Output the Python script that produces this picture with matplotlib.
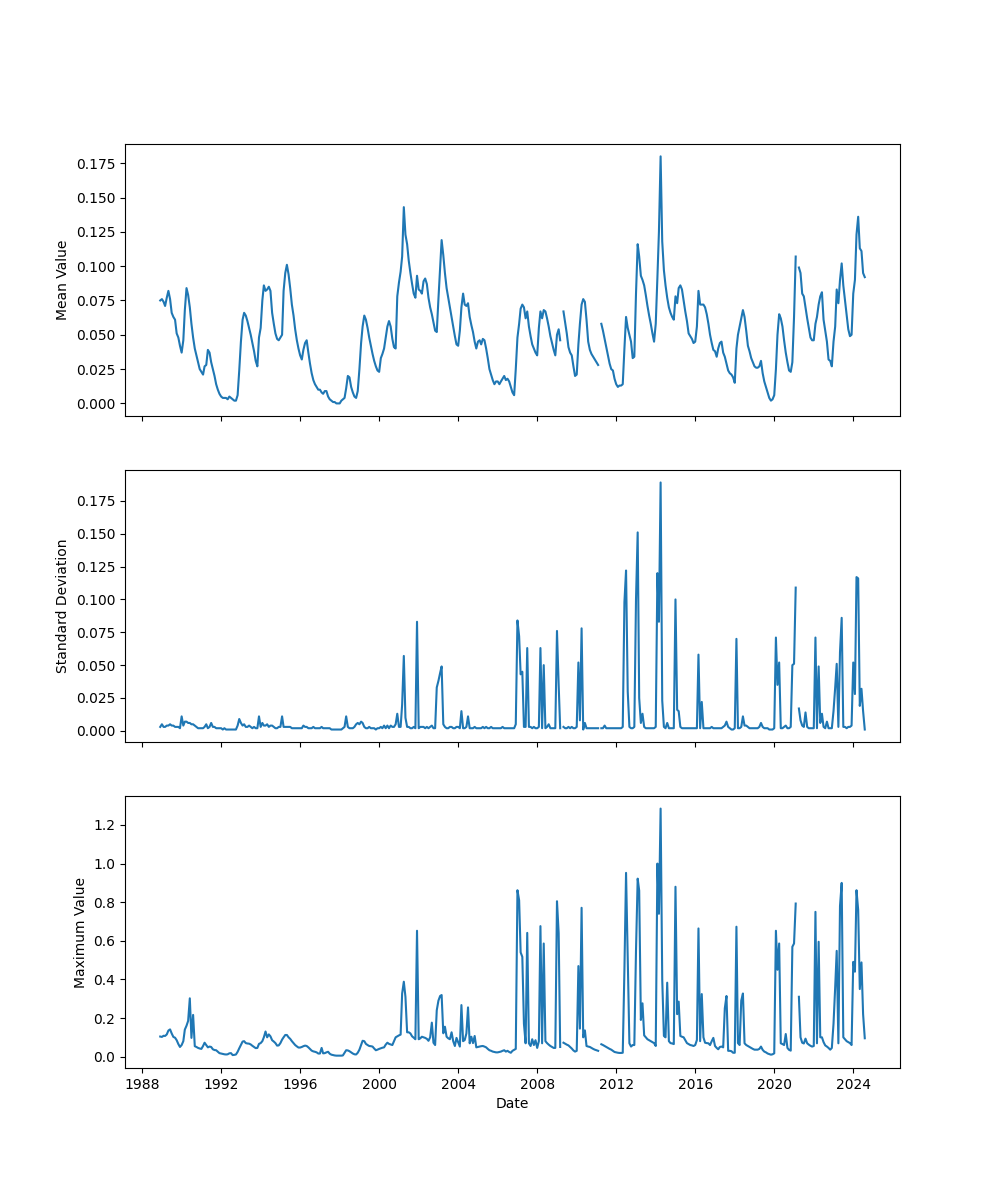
import numpy as np
import pandas as pd
import matplotlib
matplotlib.use("Agg")
import matplotlib.pyplot as plt
import matplotlib.dates as mdates

nan = np.nan

# monthly dates, Dec 1988 .. Aug 2024
dates = pd.date_range("1988-12-01", "2024-08-01", freq="MS")

# mean value, one row per year (first row is Dec 1988 only)
mean_value = [
    0.075,
    0.076, 0.074, 0.071, 0.077, 0.082, 0.076, 0.066, 0.063, 0.061, 0.051, 0.048, 0.042,  # 1989
    0.037, 0.046, 0.068, 0.084, 0.079, 0.070, 0.058, 0.048, 0.040, 0.035, 0.030, 0.025,  # 1990
    0.023, 0.021, 0.027, 0.028, 0.039, 0.037, 0.030, 0.025, 0.020, 0.014, 0.010, 0.007,  # 1991
    0.005, 0.004, 0.004, 0.004, 0.003, 0.005, 0.004, 0.003, 0.002, 0.002, 0.006, 0.024,  # 1992
    0.045, 0.061, 0.066, 0.064, 0.060, 0.055, 0.050, 0.044, 0.038, 0.031, 0.027, 0.048,  # 1993
    0.055, 0.075, 0.086, 0.082, 0.083, 0.085, 0.082, 0.066, 0.058, 0.051, 0.047, 0.046,  # 1994
    0.048, 0.050, 0.082, 0.095, 0.101, 0.094, 0.084, 0.072, 0.064, 0.054, 0.046, 0.040,  # 1995
    0.035, 0.032, 0.039, 0.044, 0.046, 0.037, 0.029, 0.022, 0.017, 0.014, 0.012, 0.010,  # 1996
    0.010, 0.008, 0.007, 0.009, 0.009, 0.005, 0.003, 0.002, 0.001, 0.001, 0.000, 0.000,  # 1997
    0.000, 0.002, 0.003, 0.004, 0.011, 0.020, 0.019, 0.012, 0.008, 0.005, 0.004, 0.009,  # 1998
    0.025, 0.044, 0.056, 0.064, 0.061, 0.055, 0.048, 0.042, 0.036, 0.031, 0.027, 0.024,  # 1999
    0.023, 0.033, 0.036, 0.040, 0.048, 0.056, 0.060, 0.056, 0.047, 0.041, 0.040, 0.078,  # 2000
    0.088, 0.096, 0.107, 0.143, 0.123, 0.116, 0.104, 0.095, 0.087, 0.080, 0.077, 0.093,  # 2001
    0.083, 0.082, 0.080, 0.089, 0.091, 0.087, 0.077, 0.070, 0.065, 0.059, 0.053, 0.052,  # 2002
    0.076, 0.098, 0.119, 0.108, 0.095, 0.084, 0.077, 0.070, 0.063, 0.056, 0.049, 0.043,  # 2003
    0.042, 0.053, 0.070, 0.080, 0.072, 0.071, 0.073, 0.063, 0.057, 0.052, 0.045, 0.040,  # 2004
    0.045, 0.046, 0.043, 0.047, 0.046, 0.040, 0.033, 0.025, 0.021, 0.017, 0.014, 0.016,  # 2005
    0.016, 0.014, 0.016, 0.018, 0.020, 0.017, 0.018, 0.016, 0.012, 0.008, 0.006, 0.025,  # 2006
    0.048, 0.058, 0.069, 0.072, 0.070, 0.062, 0.067, 0.056, 0.049, 0.043, 0.040, 0.037,  # 2007
    0.035, 0.055, 0.067, 0.062, 0.068, 0.067, 0.062, 0.056, 0.049, 0.044, 0.039, 0.035,  # 2008
    0.050, 0.054, 0.046, nan, 0.067, 0.059, 0.051, 0.041, 0.037, 0.035, 0.027, 0.020,    # 2009
    0.021, 0.043, 0.058, 0.072, 0.076, 0.074, 0.061, 0.045, 0.039, 0.036, 0.034, 0.032,  # 2010
    0.030, 0.028, nan, 0.058, 0.053, 0.047, 0.041, 0.035, 0.029, 0.025, 0.024, 0.018,    # 2011
    0.014, 0.012, 0.013, 0.013, 0.014, 0.040, 0.063, 0.055, 0.050, 0.045, 0.033, 0.034,  # 2012
    0.080, 0.116, 0.107, 0.093, 0.090, 0.086, 0.079, 0.071, 0.064, 0.058, 0.051, 0.045,  # 2013
    0.058, 0.092, 0.125, 0.180, 0.118, 0.097, 0.086, 0.077, 0.070, 0.066, 0.063, 0.061,  # 2014
    0.078, 0.073, 0.084, 0.086, 0.083, 0.075, 0.067, 0.060, 0.051, 0.049, 0.047, 0.044,  # 2015
    0.045, 0.056, 0.082, 0.072, 0.072, 0.072, 0.070, 0.065, 0.058, 0.050, 0.044, 0.039,  # 2016
    0.038, 0.034, 0.040, 0.044, 0.045, 0.037, 0.034, 0.029, 0.024, 0.022, 0.021, 0.019,  # 2017
    0.015, 0.040, 0.050, 0.056, 0.062, 0.068, 0.063, 0.053, 0.042, 0.038, 0.033, 0.030,  # 2018
    0.027, 0.026, 0.026, 0.027, 0.031, 0.022, 0.016, 0.012, 0.008, 0.004, 0.002, 0.003,  # 2019
    0.006, 0.025, 0.050, 0.065, 0.062, 0.056, 0.046, 0.037, 0.030, 0.024, 0.023, 0.030,  # 2020
    0.063, 0.107, nan, 0.099, 0.095, 0.080, 0.078, 0.070, 0.062, 0.055, 0.048, 0.046,    # 2021
    0.046, 0.058, 0.063, 0.072, 0.078, 0.081, 0.061, 0.053, 0.045, 0.032, 0.031, 0.027,  # 2022
    0.045, 0.056, 0.083, 0.073, 0.090, 0.102, 0.086, 0.075, 0.064, 0.054, 0.049, 0.050,  # 2023
    0.080, 0.090, 0.123, 0.136, 0.113, 0.111, 0.095, 0.092,                              # 2024
]

# standard deviation
std_value = [
    0.003,
    0.005, 0.003, 0.003, 0.004, 0.004, 0.005, 0.004, 0.004, 0.003, 0.003, 0.003, 0.002,  # 1989
    0.011, 0.004, 0.007, 0.007, 0.006, 0.006, 0.005, 0.005, 0.004, 0.003, 0.002, 0.002,  # 1990
    0.002, 0.002, 0.003, 0.005, 0.002, 0.003, 0.006, 0.003, 0.003, 0.002, 0.002, 0.002,  # 1991
    0.002, 0.001, 0.002, 0.001, 0.001, 0.001, 0.001, 0.001, 0.001, 0.001, 0.004, 0.009,  # 1992
    0.006, 0.004, 0.005, 0.003, 0.003, 0.004, 0.003, 0.002, 0.003, 0.002, 0.002, 0.011,  # 1993
    0.003, 0.006, 0.004, 0.004, 0.005, 0.003, 0.004, 0.004, 0.003, 0.002, 0.002, 0.003,  # 1994
    0.003, 0.011, 0.003, 0.003, 0.003, 0.003, 0.003, 0.002, 0.002, 0.002, 0.002, 0.002,  # 1995
    0.002, 0.002, 0.004, 0.003, 0.003, 0.002, 0.002, 0.002, 0.003, 0.002, 0.002, 0.002,  # 1996
    0.002, 0.003, 0.002, 0.002, 0.002, 0.002, 0.002, 0.001, 0.001, 0.001, 0.001, 0.001,  # 1997
    0.001, 0.001, 0.002, 0.003, 0.011, 0.003, 0.002, 0.002, 0.002, 0.003, 0.005, 0.006,  # 1998
    0.005, 0.007, 0.006, 0.003, 0.002, 0.002, 0.003, 0.002, 0.002, 0.002, 0.001, 0.002,  # 1999
    0.002, 0.003, 0.002, 0.004, 0.002, 0.004, 0.002, 0.004, 0.003, 0.003, 0.005, 0.013,  # 2000
    0.003, 0.003, 0.020, 0.057, 0.010, 0.003, 0.003, 0.002, 0.002, 0.003, 0.002, 0.083,  # 2001
    0.002, 0.003, 0.003, 0.003, 0.002, 0.003, 0.002, 0.003, 0.004, 0.002, 0.002, 0.033,  # 2002
    0.038, 0.044, 0.049, 0.005, 0.003, 0.002, 0.002, 0.003, 0.003, 0.002, 0.002, 0.003,  # 2003
    0.003, 0.002, 0.015, 0.002, 0.002, 0.003, 0.011, 0.002, 0.002, 0.002, 0.003, 0.002,  # 2004
    0.002, 0.002, 0.002, 0.003, 0.002, 0.003, 0.002, 0.002, 0.003, 0.002, 0.002, 0.002,  # 2005
    0.002, 0.002, 0.002, 0.003, 0.002, 0.002, 0.002, 0.002, 0.002, 0.002, 0.002, 0.005,  # 2006
    0.084, 0.072, 0.043, 0.045, 0.003, 0.003, 0.063, 0.003, 0.003, 0.002, 0.003, 0.002,  # 2007
    0.002, 0.003, 0.063, 0.002, 0.050, 0.002, 0.003, 0.005, 0.002, 0.002, 0.002, 0.002,  # 2008
    0.076, 0.035, 0.002, nan, 0.003, 0.002, 0.002, 0.003, 0.002, 0.003, 0.002, 0.002,    # 2009
    0.003, 0.052, 0.008, 0.078, 0.001, 0.006, 0.002, 0.002, 0.002, 0.002, 0.002, 0.002,  # 2010
    0.002, 0.002, nan, 0.002, 0.002, 0.004, 0.002, 0.002, 0.002, 0.002, 0.002, 0.002,    # 2011
    0.002, 0.002, 0.002, 0.002, 0.003, 0.098, 0.122, 0.030, 0.003, 0.002, 0.002, 0.003,  # 2012
    0.100, 0.151, 0.025, 0.006, 0.013, 0.003, 0.002, 0.002, 0.002, 0.002, 0.002, 0.002,  # 2013
    0.003, 0.120, 0.083, 0.189, 0.023, 0.003, 0.002, 0.006, 0.002, 0.002, 0.002, 0.002,  # 2014
    0.100, 0.016, 0.015, 0.003, 0.002, 0.002, 0.002, 0.002, 0.002, 0.002, 0.002, 0.002,  # 2015
    0.002, 0.002, 0.058, 0.002, 0.022, 0.002, 0.002, 0.002, 0.002, 0.002, 0.003, 0.002,  # 2016
    0.002, 0.002, 0.002, 0.002, 0.002, 0.003, 0.004, 0.007, 0.003, 0.002, 0.001, 0.001,  # 2017
    0.002, 0.070, 0.002, 0.002, 0.003, 0.011, 0.004, 0.004, 0.003, 0.002, 0.002, 0.002,  # 2018
    0.002, 0.002, 0.002, 0.003, 0.006, 0.003, 0.002, 0.002, 0.002, 0.001, 0.001, 0.001,  # 2019
    0.002, 0.071, 0.035, 0.052, 0.002, 0.002, 0.003, 0.004, 0.002, 0.002, 0.003, 0.050,  # 2020
    0.051, 0.109, nan, 0.017, 0.008, 0.004, 0.003, 0.014, 0.003, 0.002, 0.002, 0.002,    # 2021
    0.002, 0.071, 0.002, 0.049, 0.006, 0.013, 0.003, 0.002, 0.007, 0.002, 0.002, 0.002,  # 2022
    0.015, 0.033, 0.051, 0.003, 0.060, 0.086, 0.003, 0.003, 0.002, 0.003, 0.003, 0.004,  # 2023
    0.052, 0.028, 0.117, 0.116, 0.019, 0.032, 0.015, 0.001,                              # 2024
]

# maximum value
max_value = [
    0.104,
    0.102, 0.108, 0.107, 0.115, 0.135, 0.141, 0.120, 0.102, 0.098, 0.085, 0.065, 0.050,  # 1989
    0.060, 0.080, 0.140, 0.160, 0.185, 0.302, 0.097, 0.216, 0.054, 0.050, 0.045, 0.042,  # 1990
    0.040, 0.055, 0.072, 0.060, 0.048, 0.052, 0.050, 0.038, 0.034, 0.033, 0.025, 0.018,  # 1991
    0.016, 0.014, 0.012, 0.011, 0.012, 0.017, 0.018, 0.008, 0.009, 0.011, 0.025, 0.043,  # 1992
    0.060, 0.078, 0.080, 0.070, 0.068, 0.067, 0.063, 0.056, 0.050, 0.044, 0.045, 0.066,  # 1993
    0.070, 0.080, 0.100, 0.130, 0.100, 0.115, 0.105, 0.085, 0.078, 0.070, 0.057, 0.058,  # 1994
    0.070, 0.088, 0.100, 0.112, 0.112, 0.100, 0.092, 0.080, 0.070, 0.060, 0.053, 0.047,  # 1995
    0.047, 0.050, 0.054, 0.057, 0.055, 0.048, 0.040, 0.031, 0.027, 0.025, 0.022, 0.016,  # 1996
    0.016, 0.045, 0.017, 0.018, 0.022, 0.025, 0.015, 0.010, 0.008, 0.006, 0.005, 0.005,  # 1997
    0.005, 0.005, 0.006, 0.020, 0.033, 0.032, 0.028, 0.022, 0.016, 0.012, 0.011, 0.020,  # 1998
    0.036, 0.060, 0.082, 0.080, 0.066, 0.060, 0.055, 0.054, 0.052, 0.042, 0.033, 0.036,  # 1999
    0.040, 0.043, 0.046, 0.048, 0.062, 0.072, 0.066, 0.063, 0.060, 0.080, 0.100, 0.105,  # 2000
    0.110, 0.114, 0.327, 0.388, 0.310, 0.126, 0.126, 0.120, 0.105, 0.098, 0.090, 0.652,  # 2001
    0.090, 0.095, 0.103, 0.100, 0.097, 0.092, 0.082, 0.100, 0.176, 0.072, 0.060, 0.240,  # 2002
    0.290, 0.314, 0.319, 0.121, 0.155, 0.103, 0.095, 0.090, 0.126, 0.080, 0.055, 0.097,  # 2003
    0.075, 0.052, 0.267, 0.080, 0.086, 0.120, 0.255, 0.069, 0.103, 0.070, 0.107, 0.048,  # 2004
    0.050, 0.052, 0.054, 0.055, 0.052, 0.048, 0.040, 0.033, 0.030, 0.026, 0.024, 0.022,  # 2005
    0.022, 0.024, 0.026, 0.030, 0.033, 0.026, 0.030, 0.024, 0.020, 0.030, 0.035, 0.040,  # 2006
    0.862, 0.810, 0.540, 0.517, 0.170, 0.069, 0.641, 0.069, 0.055, 0.090, 0.060, 0.085,  # 2007
    0.045, 0.080, 0.676, 0.069, 0.586, 0.080, 0.070, 0.062, 0.055, 0.050, 0.045, 0.045,  # 2008
    0.805, 0.640, 0.050, nan, 0.072, 0.067, 0.062, 0.058, 0.050, 0.042, 0.032, 0.026,    # 2009
    0.030, 0.469, 0.145, 0.771, 0.100, 0.136, 0.055, 0.052, 0.050, 0.045, 0.040, 0.036,  # 2010
    0.033, 0.030, nan, 0.064, 0.060, 0.055, 0.050, 0.045, 0.040, 0.036, 0.030, 0.024,    # 2011
    0.022, 0.020, 0.019, 0.019, 0.020, 0.450, 0.952, 0.500, 0.069, 0.052, 0.060, 0.060,  # 2012
    0.550, 0.922, 0.860, 0.190, 0.276, 0.110, 0.100, 0.090, 0.085, 0.080, 0.075, 0.070,  # 2013
    0.055, 1.000, 0.740, 1.285, 0.400, 0.107, 0.100, 0.383, 0.080, 0.070, 0.068, 0.065,  # 2014
    0.880, 0.220, 0.285, 0.107, 0.103, 0.100, 0.085, 0.070, 0.065, 0.060, 0.058, 0.055,  # 2015
    0.060, 0.086, 0.664, 0.080, 0.324, 0.100, 0.072, 0.070, 0.069, 0.060, 0.080, 0.097,  # 2016
    0.055, 0.045, 0.038, 0.050, 0.052, 0.048, 0.250, 0.314, 0.030, 0.030, 0.028, 0.020,  # 2017
    0.020, 0.673, 0.070, 0.060, 0.290, 0.327, 0.069, 0.060, 0.055, 0.050, 0.045, 0.040,  # 2018
    0.036, 0.036, 0.036, 0.040, 0.052, 0.035, 0.026, 0.022, 0.016, 0.013, 0.010, 0.012,  # 2019
    0.017, 0.652, 0.450, 0.586, 0.069, 0.065, 0.060, 0.117, 0.045, 0.035, 0.031, 0.569,  # 2020
    0.586, 0.793, nan, 0.310, 0.100, 0.072, 0.068, 0.093, 0.069, 0.062, 0.056, 0.052,    # 2021
    0.055, 0.750, 0.069, 0.595, 0.100, 0.100, 0.075, 0.058, 0.052, 0.045, 0.036, 0.045,  # 2022
    0.170, 0.360, 0.548, 0.069, 0.780, 0.900, 0.100, 0.090, 0.080, 0.075, 0.070, 0.060,  # 2023
    0.491, 0.440, 0.862, 0.760, 0.350, 0.488, 0.220, 0.095,                              # 2024
]

series = [(mean_value, "Mean Value"),
          (std_value, "Standard Deviation"),
          (max_value, "Maximum Value")]

fig, axes = plt.subplots(3, 1, figsize=(10, 12), sharex=True)
for ax, (vals, label) in zip(axes, series):
    ax.plot(dates, vals)
    ax.set_ylabel(label)

axes[-1].xaxis.set_major_locator(mdates.YearLocator(4))
axes[-1].xaxis.set_major_formatter(mdates.DateFormatter("%Y"))
axes[-1].set_xlabel("Date")

fig.savefig("out.png", dpi=100)
